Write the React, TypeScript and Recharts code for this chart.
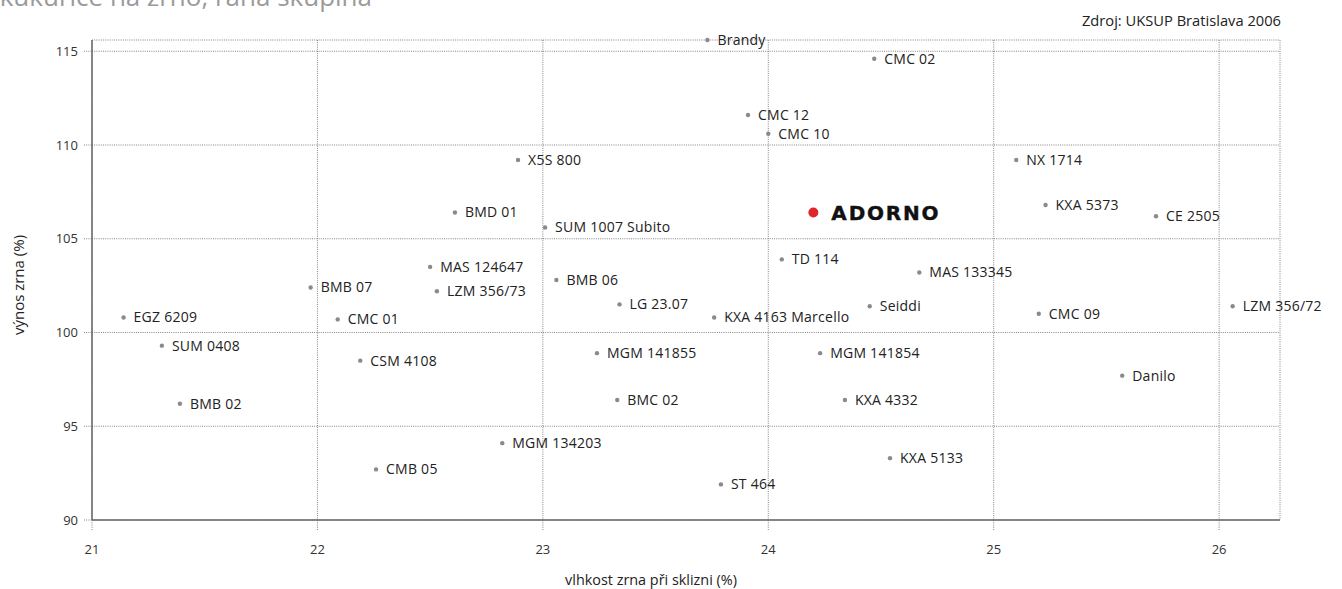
import React from 'react';
import { ScatterChart, Scatter, XAxis, YAxis, CartesianGrid } from 'recharts';

const hybrids = [
  'Brandy', 'CMC 02', 'CMC 12', 'CMC 10', 'X5S 800', 'NX 1714', 'ADORNO', 'BMD 01',
  'KXA 5373', 'CE 2505', 'SUM 1007 Subito', 'TD 114', 'MAS 124647', 'MAS 133345',
  'BMB 06', 'BMB 07', 'LZM 356/73', 'LG 23.07', 'Seiddi', 'LZM 356/72', 'EGZ 6209',
  'KXA 4163 Marcello', 'CMC 09', 'CMC 01', 'SUM 0408', 'MGM 141855', 'MGM 141854',
  'CSM 4108', 'Danilo', 'BMB 02', 'BMC 02', 'KXA 4332', 'MGM 134203', 'KXA 5133',
  'CMB 05', 'ST 464',
];

// vlhkost zrna při sklizni (%)
const moisture = [
  23.73, 24.47, 23.91, 24.0, 22.89, 25.1, 24.2, 22.61,
  25.23, 25.72, 23.01, 24.06, 22.5, 24.67,
  23.06, 21.97, 22.53, 23.34, 24.45, 26.06, 21.14,
  23.76, 25.2, 22.09, 21.31, 23.24, 24.23,
  22.19, 25.57, 21.39, 23.33, 24.34, 22.82, 24.54,
  22.26, 23.79,
];

// výnos zrna (%)
const yieldPct = [
  115.6, 114.6, 111.6, 110.6, 109.2, 109.2, 106.4, 106.4,
  106.8, 106.2, 105.6, 103.9, 103.5, 103.2,
  102.8, 102.4, 102.2, 101.5, 101.4, 101.4, 100.8,
  100.8, 101.0, 100.7, 99.3, 98.9, 98.9,
  98.5, 97.7, 96.2, 96.4, 96.4, 94.1, 93.3,
  92.7, 91.9,
];

const highlighted = 'ADORNO';

const xTicks = [21, 22, 23, 24, 25, 26];
const yTicks = [90, 95, 100, 105, 110, 115];

const data = hybrids.map((name, i) => ({ name, x: moisture[i], y: yieldPct[i] }));

const FONT = '"Open Sans", sans-serif';

const PointShape = (props: any) => {
  const { cx, cy, payload } = props;
  if (cx == null || cy == null) return null;
  if (payload.name === highlighted) {
    return (
      <g>
        <circle cx={cx} cy={cy} r={5} fill="#e0262b" />
        <text
          x={cx + 18}
          y={cy}
          dy="0.36em"
          fontFamily='"DejaVu Sans", sans-serif'
          fontWeight="bold"
          fontSize={20}
          letterSpacing={1.8}
          fill="#111"
          stroke="#111"
          strokeWidth={0.4}
        >
          {payload.name}
        </text>
      </g>
    );
  }
  return (
    <g>
      <circle cx={cx} cy={cy} r={2.2} fill="#8a8a8a" />
      <text x={cx + 10} y={cy} dy="0.35em" fontFamily={FONT} fontSize={14} letterSpacing={0.25} fill="#222">
        {payload.name}
      </text>
    </g>
  );
};

export default function App() {
  return (
    <div style={{ position: 'absolute', top: 0, left: 0, width: 1342, height: 589, overflow: 'hidden', background: '#fff' }}>
      <div
        style={{
          position: 'absolute',
          right: 970,
          top: -17,
          whiteSpace: 'nowrap',
          fontFamily: FONT,
          fontSize: 26,
          lineHeight: '26px',
          color: '#9a9a9a',
        }}
      >
        Hybridy kukurice na zrno, raná skupina
      </div>
      <div
        style={{
          position: 'absolute',
          right: 61,
          top: 10,
          whiteSpace: 'nowrap',
          fontFamily: FONT,
          fontSize: 14.7,
          lineHeight: '20px',
          color: '#222',
        }}
      >
        Zdroj: UKSUP Bratislava 2006
      </div>
      <ScatterChart width={1342} height={589} margin={{ top: 40, right: 62, bottom: 0, left: 0 }}>
        <CartesianGrid stroke="#666" strokeDasharray="1 1.2" strokeWidth={0.8} />
        <XAxis
          type="number"
          dataKey="x"
          domain={[21, 26.27]}
          ticks={xTicks}
          height={69}
          tickSize={10}
          tickMargin={15}
          axisLine={{ stroke: '#666', strokeWidth: 1.5 }}
          tickLine={{ stroke: '#666', strokeDasharray: '1 1.2', strokeWidth: 0.8 }}
          tick={{ fill: '#333', fontSize: 13, fontFamily: FONT }}
        />
        <YAxis
          type="number"
          dataKey="y"
          domain={[90, 115.6]}
          ticks={yTicks}
          width={92}
          tickSize={8}
          tickMargin={6}
          axisLine={{ stroke: '#666', strokeWidth: 1.5 }}
          tickLine={{ stroke: '#666', strokeDasharray: '1 1.2', strokeWidth: 0.8 }}
          tick={{ fill: '#333', fontSize: 13, fontFamily: FONT }}
        />
        <Scatter data={data} shape={PointShape} isAnimationActive={false} />
      </ScatterChart>
      <div
        style={{
          position: 'absolute',
          left: 18,
          top: 285,
          transform: 'translate(-50%, -50%) rotate(-90deg)',
          whiteSpace: 'nowrap',
          fontFamily: FONT,
          fontSize: 15,
          color: '#222',
        }}
      >
        výnos zrna (%)
      </div>
      <div
        style={{
          position: 'absolute',
          left: 651,
          top: 579,
          transform: 'translate(-50%, -50%)',
          whiteSpace: 'nowrap',
          fontFamily: FONT,
          fontSize: 14.4,
          color: '#222',
        }}
      >
        vlhkost zrna při sklizni (%)
      </div>
    </div>
  );
}
